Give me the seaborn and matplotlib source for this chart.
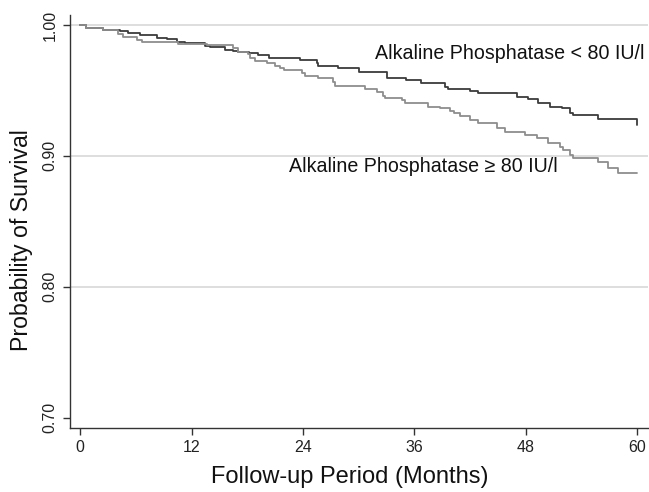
import numpy as np
import pandas as pd
import matplotlib
matplotlib.use("Agg")
import matplotlib.pyplot as plt
import seaborn as sns

# Kaplan-Meier step data (months, survival after the step)
low_months = [0, 0.6, 2.5, 4.3, 5.2, 6.4, 8.3, 9.4, 10.4, 11.3, 13.5, 14.0, 15.6, 16.5,
              17.0, 18.2, 19.2, 20.3, 23.7, 25.5, 25.6, 27.8, 30.0, 33.0, 35.1, 36.7,
              39.3, 39.6, 42.0, 42.8, 47.0, 48.2, 49.3, 50.6, 51.9, 52.7, 53.1, 55.8, 60.0]
low_surv = [1.000, 0.998, 0.996, 0.995, 0.994, 0.992, 0.990, 0.989, 0.987, 0.986, 0.984,
            0.983, 0.981, 0.980, 0.9796, 0.9786, 0.9767, 0.9748, 0.9729, 0.9707, 0.969,
            0.9671, 0.9643, 0.9597, 0.9578, 0.9557, 0.9526, 0.9507, 0.9496, 0.9477,
            0.9452, 0.9431, 0.9404, 0.9377, 0.9364, 0.933, 0.9312, 0.928, 0.9236]

high_months = [0, 0.6, 2.5, 4.1, 4.6, 6.1, 6.7, 10.5, 13.7, 16.5, 17.0, 18.1, 18.3, 18.8,
               20.1, 21.0, 21.5, 21.9, 23.9, 24.2, 25.6, 27.2, 27.4, 30.7, 32.0, 32.6,
               32.8, 34.7, 35.0, 37.5, 38.8, 39.8, 40.2, 40.9, 42.0, 42.8, 44.9, 45.7,
               47.9, 49.2, 50.4, 51.7, 52.0, 52.7, 53.1, 55.8, 56.8, 57.9, 60.0]
high_surv = [1.000, 0.998, 0.996, 0.9929, 0.9908, 0.9888, 0.9872, 0.9855, 0.9847, 0.9822,
             0.9796, 0.9778, 0.9746, 0.9727, 0.9707, 0.9687, 0.9669, 0.9656, 0.9636,
             0.961, 0.9593, 0.9567, 0.9534, 0.951, 0.949, 0.946, 0.944, 0.9427, 0.9402,
             0.9376, 0.9364, 0.9343, 0.9325, 0.9307, 0.9274, 0.9249, 0.9213, 0.9185,
             0.916, 0.9134, 0.9101, 0.907, 0.9045, 0.9007, 0.8982, 0.8956, 0.891, 0.887,
             0.887]

groups = ["Alkaline Phosphatase < 80 IU/l", "Alkaline Phosphatase \u2265 80 IU/l"]
x_ticks = [0, 12, 24, 36, 48, 60]
y_ticks = [0.70, 0.80, 0.90, 1.00]
y_ticklabels = ["0.70", "0.80", "0.90", "1.00"]

df = pd.concat([
    pd.DataFrame({"month": low_months, "surv": low_surv, "group": groups[0]}),
    pd.DataFrame({"month": high_months, "surv": high_surv, "group": groups[1]}),
], ignore_index=True)

sns.set_style("white")
plt.rcParams["font.family"] = ["Liberation Sans", "DejaVu Sans"]

fig = plt.figure(figsize=(6.49, 4.92), dpi=100)
ax = fig.add_axes([0.1079, 0.1301, 0.8906, 0.8394])

for y in [0.80, 0.90, 1.00]:
    ax.axhline(y, color="#d8d8d8", lw=1.2, zorder=0)

sns.lineplot(data=df, x="month", y="surv", hue="group",
             palette={groups[0]: "#3c3c3c", groups[1]: "#8e8e8e"},
             drawstyle="steps-post", estimator=None, sort=False,
             legend=False, lw=1.3, ax=ax)

ax.set_xlim(-1.08, 61.14)
ax.set_ylim(0.6921, 1.0076)
ax.set_xticks(x_ticks)
ax.set_xticklabels([str(t) for t in x_ticks], fontsize=11.5, color="#222222")
ax.set_yticks(y_ticks)
ax.set_yticklabels(y_ticklabels, fontsize=11.5, color="#222222", rotation=90, va="center")
ax.tick_params(axis="both", direction="out", length=5, width=1, color="#333333",
               left=True, bottom=True, pad=4)

for s in ["top", "right"]:
    ax.spines[s].set_visible(False)
for s in ["left", "bottom"]:
    ax.spines[s].set_color("#333333")
    ax.spines[s].set_linewidth(1.0)

ax.set_xlabel("Follow-up Period (Months)", fontsize=17, color="#111111")
ax.set_ylabel("Probability of Survival", fontsize=16.7, color="#111111")
ax.xaxis.set_label_coords(0.484, -0.092)
ax.yaxis.set_label_coords(-0.064, 0.455)

ax.text(60.8, 0.978, groups[0], fontsize=14.1, ha="right", va="center", color="#111111")
ax.text(22.5, 0.8915, groups[1], fontsize=14.1, ha="left", va="center", color="#111111")

fig.savefig("out.png", dpi=100)
